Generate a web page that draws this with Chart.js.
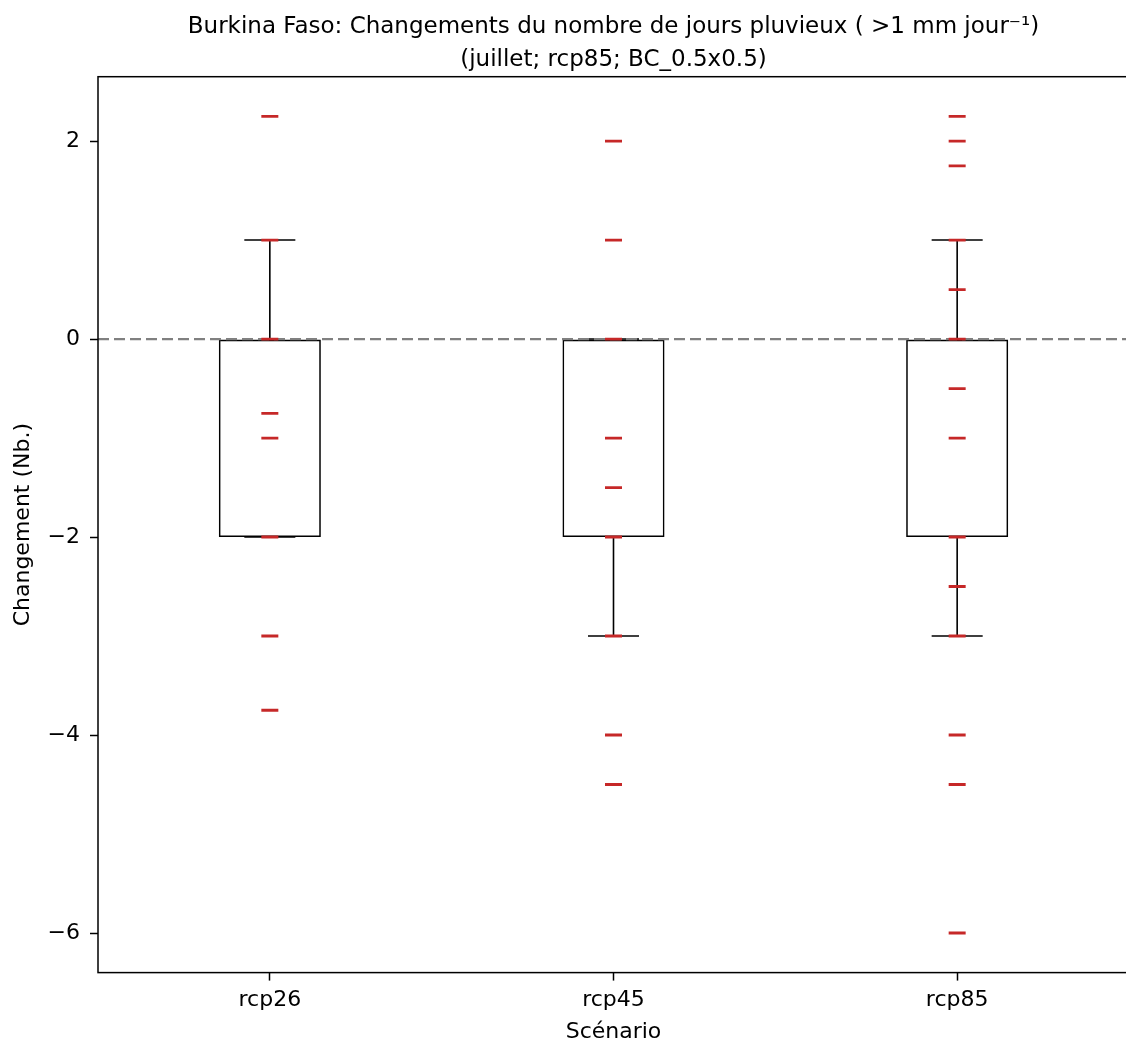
<!DOCTYPE html>
<html>
<head>
<meta charset="utf-8">
<script src="https://cdn.jsdelivr.net/npm/chart.js@4/dist/chart.umd.min.js"></script>
<style>
  html, body { margin: 0; padding: 0; background: #fff; overflow: hidden; }
  #wrap { position: absolute; left: 0; top: 0; width: 1130px; height: 1043px; }
</style>
</head>
<body>
<div id="wrap"><canvas id="boxChart" width="1130" height="1043"></canvas></div>
<script>
// scenarios and box statistics
const categories = ['rcp26', 'rcp45', 'rcp85'];
const q1 = [-2, -2, -2];
const q3 = [0, 0, 0];
const whiskerLow = [-2, -3, -3];
const whiskerHigh = [1, 0, 1];

// individual model values (red dashes)
const members26 = [2.25, 1, 0, -0.75, -1, -2, -3, -3.75];
const members45 = [2, 1, 0, -1, -1.5, -2, -3, -4, -4.5];
const members85 = [2.25, 2, 1.75, 1, 0.5, 0, -0.5, -1, -2, -2.5, -3, -4, -4.5, -6];

const yTicks = [-6, -4, -2, 0, 2];

const memberPoints = [];
[members26, members45, members85].forEach(function (vals, i) {
    vals.forEach(function (v) {
        memberPoints.push({ x: categories[i], y: v });
    });
});

const FONT = 'DejaVu Sans';

// whiskers, zero line and frame, drawn with the chart's own scales
const boxExtras = {
    id: 'boxExtras',
    afterDatasetDraw(chart, args) {
        if (args.index !== 1) return;
        const ctx = chart.ctx;
        const x = chart.scales.x;
        const y = chart.scales.y;
        const bars = args.meta.data;
        ctx.save();
        ctx.strokeStyle = '#000';
        ctx.lineWidth = 1.6;
        categories.forEach(function (c, i) {
            const cx = x.getPixelForValue(i);
            const half = bars[i].width / 4;
            const top = y.getPixelForValue(q3[i]);
            const bot = y.getPixelForValue(q1[i]);
            const hi = y.getPixelForValue(whiskerHigh[i]);
            const lo = y.getPixelForValue(whiskerLow[i]);
            ctx.beginPath();
            ctx.moveTo(cx, top); ctx.lineTo(cx, hi);
            ctx.moveTo(cx - half, hi); ctx.lineTo(cx + half, hi);
            ctx.moveTo(cx, bot); ctx.lineTo(cx, lo);
            ctx.moveTo(cx - half, lo); ctx.lineTo(cx + half, lo);
            ctx.stroke();
        });
        // dashed zero line
        const y0 = y.getPixelForValue(0);
        ctx.strokeStyle = '#808080';
        ctx.lineWidth = 2.2;
        ctx.setLineDash([11, 5]);
        ctx.beginPath();
        ctx.moveTo(chart.chartArea.left, y0);
        ctx.lineTo(chart.chartArea.right, y0);
        ctx.stroke();
        ctx.restore();
    },
    afterDraw(chart) {
        const a = chart.chartArea;
        const ctx = chart.ctx;
        ctx.save();
        ctx.strokeStyle = '#000';
        ctx.lineWidth = 1.5;
        ctx.strokeRect(a.left, a.top, a.right - a.left, a.bottom - a.top);
        ctx.restore();
    }
};

new Chart(document.getElementById('boxChart'), {
    type: 'bar',
    data: {
        labels: categories,
        datasets: [
            {
                type: 'line',
                label: 'membres',
                data: memberPoints,
                showLine: false,
                pointStyle: 'line',
                pointRadius: 8.5,
                pointBorderWidth: 2.8,
                pointBorderColor: '#c62828',
                pointBackgroundColor: '#c62828',
                order: 0,
            },
            {
                label: 'boite',
                data: categories.map(function (c, i) { return [q1[i], q3[i]]; }),
                backgroundColor: 'rgba(255,255,255,0)',
                borderColor: '#000',
                borderWidth: 1.6,
                borderSkipped: false,
                barPercentage: 1,
                categoryPercentage: 0.297,
                order: 1,
            },
        ],
    },
    options: {
        responsive: false,
        animation: false,
        layout: { autoPadding: false, padding: { left: 0, right: 1, top: 10, bottom: 0 } },
        plugins: {
            legend: { display: false },
            tooltip: { enabled: false },
            title: {
                display: true,
                fullSize: false,
                text: ['Burkina Faso: Changements du nombre de jours pluvieux ( >1 mm jour\u207B\u00B9)', '(juillet; rcp85; BC_0.5x0.5)'],
                color: '#000',
                font: { family: FONT, size: 23, weight: 'normal', lineHeight: 1.45 },
                padding: { top: 0, bottom: 0 },
            },
        },
        scales: {
            x: {
                type: 'category',
                offset: true,
                afterFit(scale) { scale.paddingLeft = 0; scale.paddingRight = 0; },
                grid: { display: true, drawOnChartArea: false, offset: false, color: '#000', tickLength: 8, tickWidth: 1.5 },
                border: { display: false },
                ticks: { color: '#000', font: { family: FONT, size: 22 }, padding: 6 },
                title: { display: true, text: 'Scénario', color: '#000', font: { family: FONT, size: 22, lineHeight: 1 }, padding: { top: 2, bottom: 0 } },
            },
            y: {
                min: -6.4,
                max: 2.65,
                afterBuildTicks(axis) {
                    axis.ticks = yTicks.map(function (v) { return { value: v }; });
                },
                afterFit(scale) { scale.width = 98; },
                grid: { display: true, drawOnChartArea: false, color: '#000', tickLength: 8, tickWidth: 1.5 },
                border: { display: false },
                ticks: {
                    color: '#000',
                    font: { family: FONT, size: 22 },
                    padding: 10,
                    callback: function (v) { return v < 0 ? '\u2212' + Math.abs(v) : String(v); },
                },
                title: { display: true, text: 'Changement (Nb.)', color: '#000', font: { family: FONT, size: 22, lineHeight: 1.2 }, padding: { top: 10, bottom: 0 } },
            },
        },
    },
    plugins: [boxExtras],
});
</script>
</body>
</html>
